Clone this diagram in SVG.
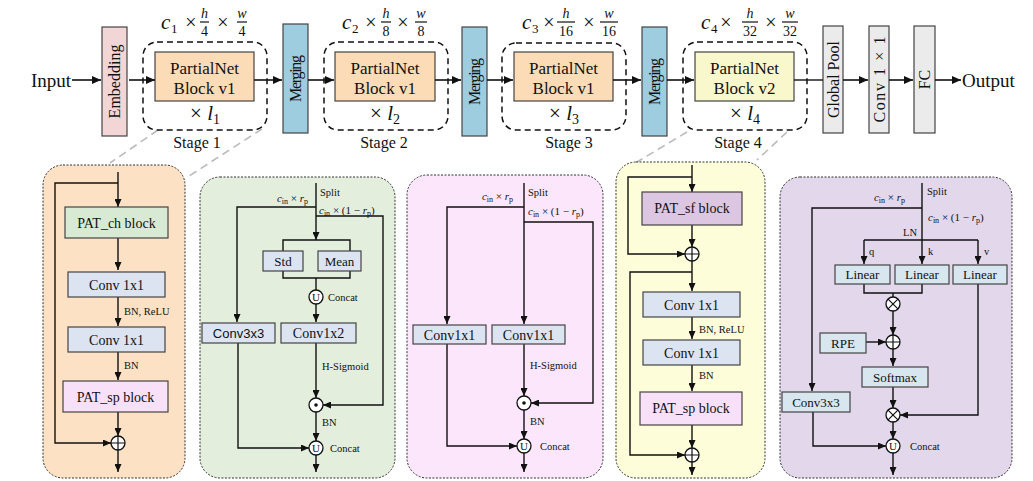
<svg xmlns="http://www.w3.org/2000/svg" width="1033" height="481" viewBox="0 0 1033 481">
<style>
text{font-family:"Liberation Serif","Times New Roman",serif;fill:#111}
.t17{font-size:17px;text-anchor:middle}
.t16{font-size:16px;text-anchor:middle}
.t19{font-size:19px}
.ml{font-size:21px;text-anchor:middle}
.fi{font-size:21px;font-style:italic}
.fs{font-size:13px}
.fx{font-size:20px;text-anchor:middle}
.fn{font-size:14px;font-style:italic;text-anchor:middle}
.fd{font-size:14px;text-anchor:middle}
.b14{font-size:14px;text-anchor:middle}
.b13{font-size:13px;text-anchor:middle}
.s10{font-size:10.5px}
.m11{font-size:11px}
.bar{stroke:#111;stroke-width:1.2}
.box{stroke:#444;stroke-width:1.2}
.stage{fill:none;stroke:#111;stroke-width:1.5;stroke-dasharray:6 4}
.panel{stroke:#333;stroke-width:1;stroke-dasharray:2 1.5}
.c{fill:none;stroke:#111;stroke-width:1.4}
.ca{fill:none;stroke:#111;stroke-width:1.4;marker-end:url(#ah)}
.ct{fill:none;stroke:#111;stroke-width:1.6;marker-end:url(#aht)}
.gd{fill:none;stroke:#bbb;stroke-width:1.6;stroke-dasharray:8 5}
.op{fill:#fff;stroke:#111;stroke-width:1.3}
.blu{fill:#dce4f2}
</style>
<defs>
<marker id="ah" viewBox="0 0 8 7" refX="8" refY="3.5" markerWidth="8" markerHeight="7" markerUnits="userSpaceOnUse" orient="auto"><path d="M0,0 L8,3.5 L0,7 z" fill="#111"/></marker>
<marker id="aht" viewBox="0 0 9 8" refX="9" refY="4" markerWidth="9" markerHeight="8" markerUnits="userSpaceOnUse" orient="auto"><path d="M0,0 L9,4 L0,8 z" fill="#111"/></marker>
<g id="oplus"><circle r="7" class="op"/><path d="M-7,0 H7 M0,-7 V7" stroke="#111" stroke-width="1.2"/></g>
<g id="otimes"><circle r="7" class="op"/><path d="M-4.9,-4.9 L4.9,4.9 M-4.9,4.9 L4.9,-4.9" stroke="#111" stroke-width="1.2"/></g>
<g id="odot"><circle r="7" class="op"/><circle r="1.8" fill="#111"/></g>
<g id="ocup"><circle r="7" class="op"/><text x="0" y="4" style="font-size:11px;text-anchor:middle">U</text></g>
</defs>

<!-- guide dashed lines -->
<g id="guides">
<line class="gd" x1="158" y1="130" x2="110" y2="163"/>
<line class="gd" x1="262" y1="129" x2="186" y2="178"/>
<line class="gd" x1="687" y1="132" x2="637" y2="162"/>
<line class="gd" x1="787" y1="132" x2="757" y2="160"/>
</g>

<!-- top row -->
<g id="input"><text class="t19" x="31" y="87">Input</text></g>
<g id="embedding"><rect class="box" x="102" y="27" width="25" height="109" fill="#f2d6d6"/><text class="t16" transform="translate(114.5,81.5) rotate(-90)" y="5.5">Embedding</text></g>
<g id="stage1">
<rect class="stage" x="143" y="42" width="124" height="88" rx="14"/>
<rect class="box" x="155" y="52" width="99" height="49" fill="#fcdcb6"/>
<text class="t17" x="204.5" y="74">PartialNet</text><text class="t17" x="204.5" y="94">Block v1</text>
<text class="ml" x="205" y="120">× <tspan font-style="italic">l</tspan><tspan font-size="14" dy="4">1</tspan></text>
<text class="t16" x="197" y="148">Stage 1</text>
<text class="fi" x="161" y="29">c</text><text class="fs" x="171" y="33">1</text><text class="fx" x="191" y="29">×</text>
<line class="bar" x1="200" y1="22" x2="209" y2="22"/><text class="fn" x="204.5" y="18">h</text><text class="fd" x="204.5" y="36">4</text>
<text class="fx" x="223" y="29">×</text>
<line class="bar" x1="237" y1="22" x2="247" y2="22"/><text class="fn" x="242" y="18">w</text><text class="fd" x="242" y="36">4</text>
</g>
<g id="merging1"><rect class="box" x="283" y="24" width="25" height="109" fill="#9ecde0"/><text class="t16" transform="translate(295.5,78.5) rotate(-90)" y="5.5" textLength="47">Merging</text></g>
<g id="stage2">
<rect class="stage" x="324" y="42" width="124" height="88" rx="14"/>
<rect class="box" x="335" y="52" width="100" height="49" fill="#fcdcb6"/>
<text class="t17" x="385" y="74">PartialNet</text><text class="t17" x="385" y="94">Block v1</text>
<text class="ml" x="385" y="120">× <tspan font-style="italic">l</tspan><tspan font-size="14" dy="4">2</tspan></text>
<text class="t16" x="384" y="148">Stage 2</text>
<text class="fi" x="342" y="29">c</text><text class="fs" x="352" y="33">2</text><text class="fx" x="371" y="29">×</text>
<line class="bar" x1="381" y1="22" x2="391" y2="22"/><text class="fn" x="386" y="18">h</text><text class="fd" x="386" y="36">8</text>
<text class="fx" x="403" y="29">×</text>
<line class="bar" x1="415" y1="22" x2="427" y2="22"/><text class="fn" x="421" y="18">w</text><text class="fd" x="421" y="36">8</text>
</g>
<g id="merging2"><rect class="box" x="462" y="27" width="25" height="109" fill="#9ecde0"/><text class="t16" transform="translate(474.5,81.5) rotate(-90)" y="5.5" textLength="47">Merging</text></g>
<g id="stage3">
<rect class="stage" x="502" y="43" width="124" height="87" rx="14"/>
<rect class="box" x="514" y="52" width="99" height="49" fill="#fcdcb6"/>
<text class="t17" x="563.5" y="74">PartialNet</text><text class="t17" x="563.5" y="94">Block v1</text>
<text class="ml" x="564" y="120">× <tspan font-style="italic">l</tspan><tspan font-size="14" dy="4">3</tspan></text>
<text class="t16" x="569" y="148">Stage 3</text>
<text class="fi" x="522" y="29">c</text><text class="fs" x="532" y="33">3</text><text class="fx" x="549" y="29">×</text>
<line class="bar" x1="557" y1="22" x2="575" y2="22"/><text class="fn" x="566" y="18">h</text><text class="fd" x="566" y="36">16</text>
<text class="fx" x="589" y="29">×</text>
<line class="bar" x1="600" y1="22" x2="618" y2="22"/><text class="fn" x="609" y="18">w</text><text class="fd" x="609" y="36">16</text>
</g>
<g id="merging3"><rect class="box" x="642" y="27" width="25" height="109" fill="#9ecde0"/><text class="t16" transform="translate(654.5,81.5) rotate(-90)" y="5.5" textLength="47">Merging</text></g>
<g id="stage4">
<rect class="stage" x="683" y="42" width="124" height="88" rx="14"/>
<rect class="box" x="695" y="52" width="99" height="49" fill="#f8f8cc"/>
<text class="t17" x="744.5" y="74">PartialNet</text><text class="t17" x="744.5" y="94">Block v2</text>
<text class="ml" x="745" y="120">× <tspan font-style="italic">l</tspan><tspan font-size="14" dy="4">4</tspan></text>
<text class="t16" x="738" y="148">Stage 4</text>
<text class="fi" x="701" y="29">c</text><text class="fs" x="711" y="33">4</text><text class="fx" x="726" y="29">×</text>
<line class="bar" x1="742" y1="22" x2="758" y2="22"/><text class="fn" x="750" y="18">h</text><text class="fd" x="750" y="36">32</text>
<text class="fx" x="771" y="29">×</text>
<line class="bar" x1="782" y1="22" x2="798" y2="22"/><text class="fn" x="790" y="18">w</text><text class="fd" x="790" y="36">32</text>
</g>
<g id="globalpool"><rect class="box" x="823" y="26" width="20" height="107" fill="#ebebeb"/><text class="t16" transform="translate(833,79.5) rotate(-90)" y="5.5">Global Pool</text></g>
<g id="conv1x1top"><rect class="box" x="869" y="26" width="20" height="107" fill="#ebebeb"/><text class="t16" transform="translate(879,79.5) rotate(-90)" y="5.5" textLength="86">Conv 1 × 1</text></g>
<g id="fc"><rect class="box" x="914" y="26" width="21" height="107" fill="#ebebeb"/><text class="t16" transform="translate(924.5,79.5) rotate(-90)" y="5.5">FC</text></g>
<g id="output"><text class="t19" x="962" y="87">Output</text></g>

<g id="top-connectors">
<path class="ct" d="M72,80 H101"/>
<path class="ct" d="M129,80 H155"/>
<path class="ct" d="M254,80 H282"/>
<path class="ct" d="M308,80 H334"/>
<path class="ct" d="M435,80 H461"/>
<path class="ct" d="M487,80 H513"/>
<path class="ct" d="M613,80 H641"/>
<path class="ct" d="M667,80 H694"/>
<path class="c" d="M794,80 H823" stroke-width="1.6"/>
<path class="ct" d="M843,80 H868"/>
<path class="ct" d="M889,80 H913"/>
<path class="ct" d="M935,80 H961"/>
</g>

<!-- panels -->
<g id="panel1">
<rect class="panel" x="43" y="165" width="142" height="313" rx="20" fill="#fde1c4"/>
</g>
<g id="panel2">
<rect class="panel" x="200" y="177" width="195" height="301" rx="20" fill="#e3eedc"/>
</g>
<g id="panel3">
<rect class="panel" x="407" y="175" width="196" height="303" rx="20" fill="#fce6fb"/>
</g>
<g id="panel4">
<rect class="panel" x="616" y="162" width="149" height="316" rx="20" fill="#fdfdd9"/>
</g>
<g id="panel5">
<rect class="panel" x="780" y="177" width="232" height="301" rx="20" fill="#e2d7eb"/>
</g>

<g id="connectors">
<!-- panel 1 -->
<path class="ca" d="M118,172 V207"/>
<path class="ca" d="M118,183 H55 V443 H111"/>
<path class="ca" d="M118,238 V270"/>
<path class="ca" d="M118,297 V326"/>
<path class="ca" d="M118,352 V380"/>
<path class="ca" d="M118,412 V436"/>
<path class="ca" d="M118,450 V472"/>
<!-- panel 2 -->
<path class="ca" d="M316,183 V240"/>
<path class="ca" d="M316,207 H237 V322"/>
<path class="ca" d="M316,216 H383 V405 H323"/>
<path class="c" d="M283,251 V240 H350 V251"/>
<path class="c" d="M283,271 V278 H350 V271 M316,278 V290"/>
<path class="ca" d="M316,304 V322"/>
<path class="ca" d="M316,343 V398"/>
<path class="ca" d="M316,412 V441"/>
<path class="ca" d="M238,343 V448 H309"/>
<path class="ca" d="M316,455 V472"/>
<!-- panel 3 -->
<path class="ca" d="M524,183 V324"/>
<path class="ca" d="M524,207 H447 V324"/>
<path class="ca" d="M524,222 H593 V403 H531"/>
<path class="ca" d="M524,344 V396"/>
<path class="ca" d="M524,410 V439"/>
<path class="ca" d="M447,344 V446 H517"/>
<path class="ca" d="M524,453 V472"/>
<!-- panel 4 -->
<path class="ca" d="M692,165 V192"/>
<path class="ca" d="M692,177 H628 V254 H685"/>
<path class="ca" d="M692,225 V247"/>
<path class="ca" d="M692,261 V291"/>
<path class="ca" d="M692,272 H630 V455 H685"/>
<path class="ca" d="M692,317 V339"/>
<path class="ca" d="M692,365 V391"/>
<path class="ca" d="M692,425 V448"/>
<path class="ca" d="M692,462 V475"/>
<!-- panel 5 -->
<path class="ca" d="M922,183 V264"/>
<path class="ca" d="M922,208 H812 V391"/>
<path class="c" d="M864,240 H978"/>
<path class="ca" d="M864,240 V264"/>
<path class="ca" d="M978,240 V264"/>
<path class="c" d="M864,284 V293 H922 V284 M893,293 V297"/>
<path class="ca" d="M893,311 V335"/>
<path class="ca" d="M866,342 H886"/>
<path class="ca" d="M893,349 V366"/>
<path class="ca" d="M893,387 V408"/>
<path class="ca" d="M978,284 V415 H900"/>
<path class="ca" d="M893,422 V439"/>
<path class="ca" d="M813,412 V446 H886"/>
<path class="ca" d="M893,453 V475"/>
</g>

<!-- panel 1 nodes -->
<g id="p1-patch"><rect class="box" x="65" y="207" width="103" height="31" fill="#d8ead4"/><text class="b14" x="116.5" y="227.5">PAT_ch block</text></g>
<g id="p1-conv1"><rect class="box blu" x="68" y="272" width="97" height="25"/><text class="b14" x="116.5" y="289.5">Conv 1x1</text></g>
<g id="p1-conv2"><rect class="box blu" x="68" y="327" width="97" height="25"/><text class="b14" x="116.5" y="344.5">Conv 1x1</text></g>
<g id="p1-patsp"><rect class="box" x="63" y="381" width="105" height="31" fill="#f8e0f8"/><text class="b14" x="115.5" y="401.5">PAT_sp block</text></g>
<g id="p1-add"><use href="#oplus" x="118" y="443"/></g>
<g id="p1-labels"><text class="s10" x="124" y="315">BN, ReLU</text><text class="s10" x="124" y="369">BN</text></g>

<!-- panel 2 nodes -->
<g id="p2-std"><rect class="box blu" x="263" y="251" width="40" height="20"/><text class="b13" x="283" y="265.5">Std</text></g>
<g id="p2-mean"><rect class="box blu" x="318" y="251" width="43" height="20"/><text class="b13" x="339.5" y="265.5">Mean</text></g>
<g id="p2-concat1"><use href="#ocup" x="316" y="297"/></g>
<g id="p2-conv3"><rect class="box blu" x="202" y="323" width="73" height="20"/><text x="238.5" y="338" style="font-family:'Liberation Sans',Arial,sans-serif;font-size:13px;text-anchor:middle">Conv3x3</text></g>
<g id="p2-conv12"><rect class="box blu" x="281" y="323" width="75" height="20"/><text class="b14" x="318.5" y="338">Conv1x2</text></g>
<g id="p2-mul"><use href="#odot" x="316" y="405"/></g>
<g id="p2-concat2"><use href="#ocup" x="316" y="448"/></g>
<g id="p2-labels">
<text class="s10" x="320" y="196">Split</text>
<text class="m11" x="308" y="202" text-anchor="end"><tspan font-style="italic">c</tspan><tspan font-size="8" dy="2">in</tspan><tspan dy="-2"> × </tspan><tspan font-style="italic">r</tspan><tspan font-size="8" dy="2">p</tspan></text>
<text class="m11" x="319" y="214"><tspan font-style="italic">c</tspan><tspan font-size="8" dy="2">in</tspan><tspan dy="-2"> × (1 − </tspan><tspan font-style="italic">r</tspan><tspan font-size="8" dy="2">p</tspan><tspan dy="-2">)</tspan></text>
<text class="s10" x="328" y="301">Concat</text>
<text class="s10" x="322" y="370">H-Sigmoid</text>
<text class="s10" x="322" y="426">BN</text>
<text class="s10" x="330" y="452">Concat</text>
</g>

<!-- panel 3 nodes -->
<g id="p3-conva"><rect class="box blu" x="413" y="325" width="73" height="19"/><text class="b14" x="449.5" y="339.5">Conv1x1</text></g>
<g id="p3-convb"><rect class="box blu" x="492" y="325" width="73" height="19"/><text class="b14" x="528.5" y="339.5">Conv1x1</text></g>
<g id="p3-mul"><use href="#odot" x="524" y="403"/></g>
<g id="p3-concat"><use href="#ocup" x="524" y="446"/></g>
<g id="p3-labels">
<text class="s10" x="528" y="196">Split</text>
<text class="m11" x="513" y="200" text-anchor="end"><tspan font-style="italic">c</tspan><tspan font-size="8" dy="2">in</tspan><tspan dy="-2"> × </tspan><tspan font-style="italic">r</tspan><tspan font-size="8" dy="2">p</tspan></text>
<text class="m11" x="528" y="215"><tspan font-style="italic">c</tspan><tspan font-size="8" dy="2">in</tspan><tspan dy="-2"> × (1 − </tspan><tspan font-style="italic">r</tspan><tspan font-size="8" dy="2">p</tspan><tspan dy="-2">)</tspan></text>
<text class="s10" x="530" y="369">H-Sigmoid</text>
<text class="s10" x="530" y="425">BN</text>
<text class="s10" x="540" y="450">Concat</text>
</g>

<!-- panel 4 nodes -->
<g id="p4-patsf"><rect class="box" x="642" y="192" width="100" height="33" fill="#dcc6e2"/><text class="b14" x="692" y="213">PAT_sf block</text></g>
<g id="p4-add1"><use href="#oplus" x="692" y="254"/></g>
<g id="p4-conv1"><rect class="box blu" x="643" y="292" width="97" height="25"/><text class="b14" x="691.5" y="309.5">Conv 1x1</text></g>
<g id="p4-conv2"><rect class="box blu" x="643" y="340" width="97" height="25"/><text class="b14" x="691.5" y="357.5">Conv 1x1</text></g>
<g id="p4-patsp"><rect class="box" x="640" y="392" width="102" height="33" fill="#f8e0f8"/><text class="b14" x="691" y="413">PAT_sp block</text></g>
<g id="p4-add2"><use href="#oplus" x="692" y="455"/></g>
<g id="p4-labels"><text class="s10" x="699" y="333">BN, ReLU</text><text class="s10" x="699" y="379">BN</text></g>

<!-- panel 5 nodes -->
<g id="p5-linq"><rect class="box" x="835" y="265" width="55" height="19" fill="#d8e6ef"/><text class="b13" x="862.5" y="279">Linear</text></g>
<g id="p5-link"><rect class="box" x="895" y="265" width="54" height="19" fill="#d8e6ef"/><text class="b13" x="922" y="279">Linear</text></g>
<g id="p5-linv"><rect class="box" x="953" y="265" width="54" height="19" fill="#d8e6ef"/><text class="b13" x="980" y="279">Linear</text></g>
<g id="p5-mul1"><use href="#otimes" x="893" y="304"/></g>
<g id="p5-rpe"><rect class="box" x="820" y="333" width="46" height="20" fill="#d8e6ef"/><text class="b13" x="843" y="347.5">RPE</text></g>
<g id="p5-add"><use href="#oplus" x="893" y="342"/></g>
<g id="p5-softmax"><rect class="box" x="862" y="367" width="66" height="20" fill="#d8e6ef"/><text class="b13" x="895" y="381.5">Softmax</text></g>
<g id="p5-mul2"><use href="#otimes" x="893" y="415"/></g>
<g id="p5-conv3"><rect class="box" x="782" y="392" width="68" height="20" fill="#d8e6ef"/><text class="b13" x="816" y="406.5">Conv3x3</text></g>
<g id="p5-concat"><use href="#ocup" x="893" y="446"/></g>
<g id="p5-labels">
<text class="s10" x="927" y="195">Split</text>
<text class="m11" x="905" y="201" text-anchor="end"><tspan font-style="italic">c</tspan><tspan font-size="8" dy="2">in</tspan><tspan dy="-2"> × </tspan><tspan font-style="italic">r</tspan><tspan font-size="8" dy="2">p</tspan></text>
<text class="m11" x="928" y="221"><tspan font-style="italic">c</tspan><tspan font-size="8" dy="2">in</tspan><tspan dy="-2"> × (1 − </tspan><tspan font-style="italic">r</tspan><tspan font-size="8" dy="2">p</tspan><tspan dy="-2">)</tspan></text>
<text class="s10" x="903" y="236">LN</text>
<text class="s10" x="869" y="255">q</text>
<text class="s10" x="928" y="255">k</text>
<text class="s10" x="984" y="255">v</text>
<text class="s10" x="910" y="450">Concat</text>
</g>
</svg>
